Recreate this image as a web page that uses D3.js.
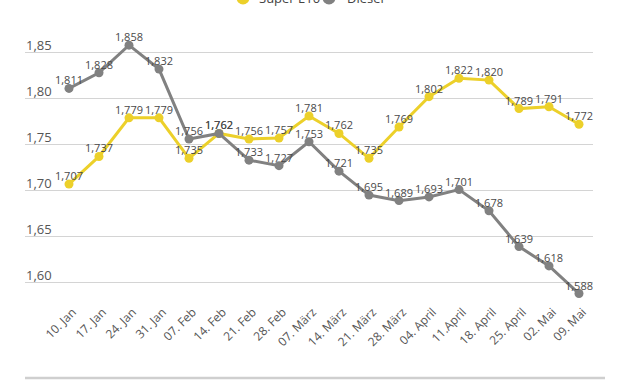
<!DOCTYPE html>
<html>
<head>
<meta charset="utf-8">
<script src="https://cdn.jsdelivr.net/npm/d3@7"></script>
<style>
  body { margin: 0; background: #fff; }
  svg { display: block; font-family: "Open Sans", sans-serif; }
</style>
</head>
<body>
<svg id="chart" width="630" height="381"></svg>
<script>
const dates = ['10. Jan', '17. Jan', '24. Jan', '31. Jan', '07. Feb', '14. Feb', '21. Feb', '28. Feb',
  '07. März', '14. März', '21. März', '28. März', '04. April', '11.April', '18. April', '25. April',
  '02. Mai', '09. Mai']

const super_e10 = [1.707, 1.737, 1.779, 1.779, 1.735, 1.762, 1.756, 1.757, 1.781, 1.762, 1.735, 1.769,
  1.802, 1.822, 1.820, 1.789, 1.791, 1.772]
const diesel = [1.811, 1.828, 1.858, 1.832, 1.756, 1.762, 1.733, 1.727, 1.753, 1.721, 1.695, 1.689,
  1.693, 1.701, 1.678, 1.639, 1.618, 1.588]

const y_ticks = [1.60, 1.65, 1.70, 1.75, 1.80, 1.85]

const yellow = '#ecd02a'
const grey = '#818181'

const de = d3.formatLocale({ decimal: ',', thousands: '.', grouping: [3], currency: ['', '€'] })
const fmt3 = de.format('.3f')
const fmt2 = de.format('.2f')

var svg = d3.select('#chart')

var x = d3.scalePoint().domain(dates).range([69, 579])
var y = d3.scaleLinear().domain([1.60, 1.85]).range([282.5, 52.5])

// grid lines + labels
var grid = svg.append('g')
grid.selectAll('line')
  .data(y_ticks).enter()
  .append('line')
  .attr('x1', 25).attr('x2', 593)
  .attr('y1', d => y(d)).attr('y2', d => y(d))
  .attr('stroke', '#d4d4d4')
  .attr('stroke-width', 1.2)

grid.selectAll('text')
  .data(y_ticks).enter()
  .append('text')
  .attr('x', 26)
  .attr('y', d => y(d) - 3)
  .style('font-size', '13px')
  .style('fill', '#555')
  .text(d => fmt2(d))

// bottom rule
svg.append('line')
  .attr('x1', 25).attr('x2', 605)
  .attr('y1', 378).attr('y2', 378)
  .attr('stroke', '#cfcfcf')
  .attr('stroke-width', 2.5)

// x labels
svg.append('g').selectAll('text')
  .data(dates).enter()
  .append('text')
  .attr('text-anchor', 'end')
  .attr('transform', d => `translate(${x(d) + 8}, 313) rotate(-45)`)
  .style('font-size', '12px')
  .style('fill', '#555')
  .text(d => d)

function drawSeries(values, col) {
  let line = d3.line()
    .x((d, i) => x(dates[i]))
    .y(d => y(d))

  svg.append('path')
    .datum(values)
    .attr('d', line)
    .attr('fill', 'none')
    .attr('stroke', col)
    .attr('stroke-width', 3)

  svg.append('g').selectAll('circle')
    .data(values).enter()
    .append('circle')
    .attr('cx', (d, i) => x(dates[i]))
    .attr('cy', d => y(d))
    .attr('r', 4.5)
    .attr('fill', col)
}

function drawLabels(values) {
  svg.append('g').selectAll('text')
    .data(values).enter()
    .append('text')
    .attr('text-anchor', 'middle')
    .attr('x', (d, i) => x(dates[i]))
    .attr('y', d => y(d) - 4)
    .style('font-size', '11px')
    .style('fill', '#4a4a4a')
    .text(d => fmt3(d))
}

drawSeries(super_e10, yellow)
drawSeries(diesel, grey)
drawLabels(super_e10)
drawLabels(diesel)

// legend (cut at top edge)
var legend = svg.append('g')
legend.append('circle').attr('cx', 243).attr('cy', -2).attr('r', 6.5).attr('fill', yellow)
legend.append('text').attr('x', 259).attr('y', 3).style('font-size', '13px').style('fill', '#444').text('Super E10')
legend.append('circle').attr('cx', 329).attr('cy', -2).attr('r', 6.5).attr('fill', grey)
legend.append('text').attr('x', 347).attr('y', 3).style('font-size', '13px').style('fill', '#444').text('Diesel')
</script>
</body>
</html>
